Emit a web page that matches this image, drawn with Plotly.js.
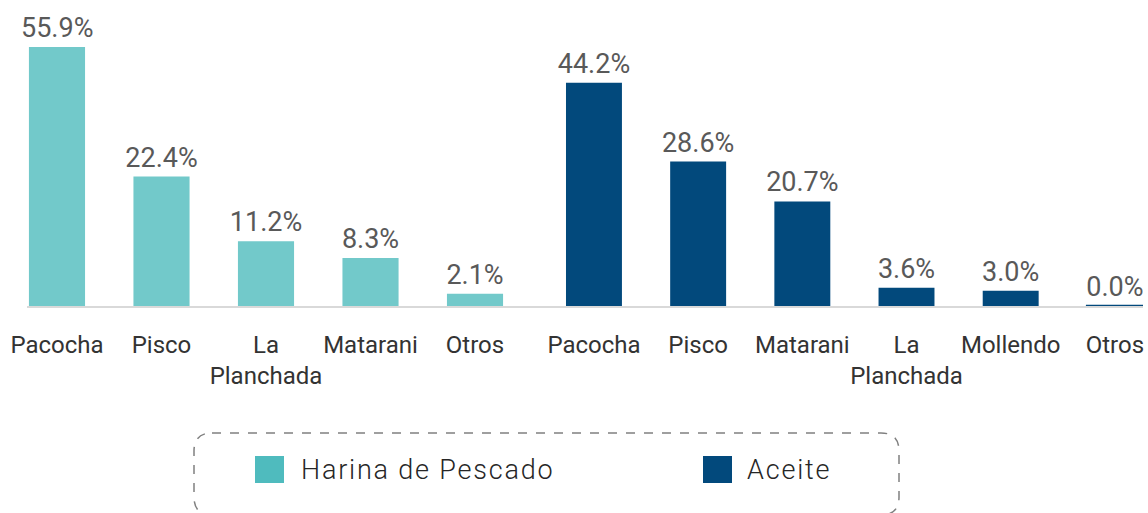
<!DOCTYPE html>
<html>
<head>
<meta charset="utf-8">
<script src="https://cdn.plot.ly/plotly-3.0.1.min.js"></script>
<style>html,body{margin:0;padding:0;background:#fff;}</style>
</head>
<body>
<div id="chart" style="width:1148px;height:513px;"></div>
<script>
// ---- data ----
const harinaPorts = ['Pacocha', 'Pisco', 'La<br>Planchada', 'Matarani', 'Otros'];
const harinaShare = [55.9, 22.4, 11.2, 8.3, 2.1];
const aceitePorts = ['Pacocha', 'Pisco', 'Matarani', 'La<br>Planchada', 'Mollendo', 'Otros'];
const aceiteShare = [44.2, 28.6, 20.7, 3.6, 3.0, 0.04];
const seriesNames = ['Harina de Pescado', 'Aceite'];

// ---- style ----
const W = 1148, H = 513;
const FONT = 'Roboto, "Noto Sans", sans-serif';
const barColors = ['#72C9CA', '#02497C'];
const swatchColors = ['#4FBBBE', '#02497C'];
const leftMax = 44.8;   // left panel axis maximum (tallest bar is cut off as in the original)
const rightMax = 51.3;
const px = v => v / W;
const py = v => 1 - v / H;
const yDom = [py(306), py(47)];

const fmt = v => v.toFixed(1) + '%';
const labelFont = {family: FONT, size: 27, color: '#595959'};

const traces = [
  {
    type: 'bar', x: harinaPorts, y: harinaShare, xaxis: 'x', yaxis: 'y',
    name: seriesNames[0], marker: {color: barColors[0]},
    texttemplate: '%{y:.1f}%',
    textposition: harinaShare.map(v => v > leftMax ? 'none' : 'outside'),
    textfont: labelFont, constraintext: 'none', textangle: 0,
    cliponaxis: true, showlegend: false, hoverinfo: 'x+y'
  },
  {
    type: 'bar', x: aceitePorts, y: aceiteShare, xaxis: 'x2', yaxis: 'y2',
    name: seriesNames[1],
    marker: {color: barColors[1],
             line: {color: barColors[1], width: aceiteShare.map(v => v < 0.5 ? 2 : 0)}},
    texttemplate: '%{y:.1f}%', textposition: 'outside',
    textfont: labelFont, constraintext: 'none', textangle: 0,
    cliponaxis: false, showlegend: false, hoverinfo: 'x+y'
  }
];

const axisCommon = {
  type: 'category', showline: true, linecolor: '#D9D9D9', linewidth: 2,
  showgrid: false, zeroline: false, ticks: '', fixedrange: true, tickangle: 0,
  tickfont: {family: FONT, size: 24, color: '#333333'},
  ticklabelstandoff: 16, automargin: false
};

// labels of bars cut at the top of the axis
const annotations = [];
harinaShare.forEach((v, i) => {
  if (v > leftMax) {
    annotations.push({
      xref: 'x', yref: 'y', x: harinaPorts[i], y: leftMax, text: fmt(v),
      showarrow: false, yanchor: 'bottom', yshift: 1, font: labelFont
    });
  }
});

// custom legend in a dashed rounded box
const legendItems = [
  {sx0: 255, sx1: 284, tx: 299},
  {sx0: 703, sx1: 732, tx: 745}
];
const shapes = [];
legendItems.forEach((it, i) => {
  shapes.push({
    type: 'rect', xref: 'paper', yref: 'paper',
    x0: px(it.sx0), x1: px(it.sx1), y0: py(483), y1: py(456),
    fillcolor: swatchColors[i], line: {width: 0}
  });
  annotations.push({
    xref: 'paper', yref: 'paper', x: px(it.tx), y: py(470),
    xanchor: 'left', yanchor: 'middle', showarrow: false,
    text: seriesNames[i],
    font: {family: FONT, size: 27, color: '#262626', weight: 300}
  });
});
(function () {
  const x0 = 194, x1 = 899, y0 = 433, y1 = 515, r = 18;
  const P = (a, b) => px(a) + ',' + py(b);
  const d = 'M' + P(x0 + r, y0) + ' L' + P(x1 - r, y0) + ' Q' + P(x1, y0) + ' ' + P(x1, y0 + r) +
    ' L' + P(x1, y1 - r) + ' Q' + P(x1, y1) + ' ' + P(x1 - r, y1) +
    ' L' + P(x0 + r, y1) + ' Q' + P(x0, y1) + ' ' + P(x0, y1 - r) +
    ' L' + P(x0, y0 + r) + ' Q' + P(x0, y0) + ' ' + P(x0 + r, y0) + ' Z';
  shapes.push({type: 'path', xref: 'paper', yref: 'paper', path: d,
    line: {color: '#808080', width: 1.5, dash: 'dash'}});
})();

const layout = {
  width: W, height: H,
  margin: {l: 0, r: 0, t: 0, b: 0},
  paper_bgcolor: '#ffffff', plot_bgcolor: 'rgba(0,0,0,0)',
  bargap: 0.463,
  showlegend: false,
  font: {family: FONT},
  xaxis: Object.assign({}, axisCommon, {domain: [px(27), px(535)], range: [-0.287, 4.574], anchor: 'y'}),
  xaxis2: Object.assign({}, axisCommon, {domain: [px(535), px(1143)], range: [-0.566, 5.27], anchor: 'y2'}),
  yaxis: {domain: yDom, range: [0, leftMax], visible: false, fixedrange: true},
  yaxis2: {domain: yDom, range: [0, rightMax], visible: false, fixedrange: true},
  annotations: annotations,
  shapes: shapes
};

Plotly.newPlot('chart', traces, layout, {displayModeBar: false, staticPlot: true}).then(() => {
  document.querySelectorAll('.annotation').forEach(g => {
    const t = g.querySelector('text');
    if (t && seriesNames.includes(t.textContent)) {
      const before = t.getBBox().x;
      t.style.letterSpacing = '1.8px';
      const after = t.getBBox().x;
      const x0 = parseFloat(t.getAttribute('x') || '0');
      t.setAttribute('x', x0 + (before - after));
    }
  });
});
</script>
</body>
</html>
